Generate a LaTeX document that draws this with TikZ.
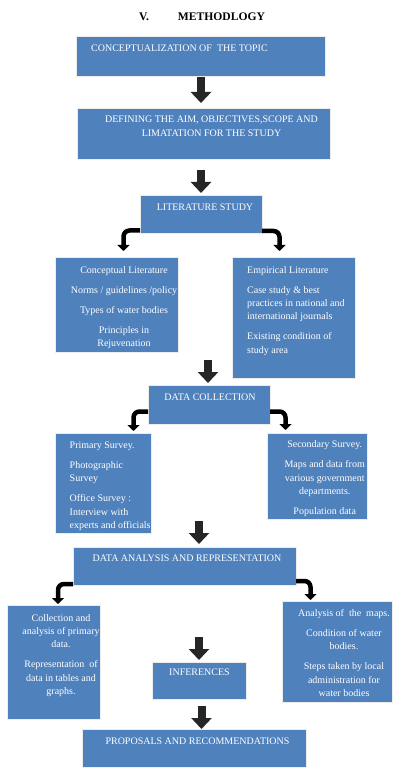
\documentclass[tikz,border=0pt]{standalone}
\usepackage{fontspec}
\setmainfont{Liberation Serif}
\usetikzlibrary{arrows.meta,shadows,calc}
\definecolor{boxblue}{HTML}{4F81BD}
\definecolor{arrowdark}{HTML}{262626}
\begin{document}
\begin{tikzpicture}[x=1pt,y=-1pt,
  box/.style={fill=boxblue, draw=white!85!gray, line width=0.8pt,
    drop shadow={shadow xshift=1.3pt, shadow yshift=-1.3pt, fill=gray!45, opacity=1},
    anchor=north west, inner sep=0pt, outer sep=0pt},
  txt/.style={text=white, font=\fontsize{10}{13.3}\selectfont, inner sep=0pt, anchor=north},
  barrow/.style={draw=arrowdark, line width=8pt, -{Triangle[width=20pt,length=11pt]}},
  carrow/.style={draw=black, line width=4.5pt, rounded corners=6pt, -{Triangle[width=12pt,length=6pt]}}]
\fill[white] (0,0) rectangle (410,775);
\useasboundingbox (0,0) rectangle (410,775);

\node[font=\fontsize{11.6}{14}\selectfont\bfseries, anchor=north west, inner sep=0pt] (title) at (139,13) {V.\hspace{29pt}METHODLOGY};

% boxes
\node[box, minimum width=249pt, minimum height=40pt] (b1) at (76,36) {};
\node[box, minimum width=253pt, minimum height=51pt] (b2) at (77,108) {};
\node[box, minimum width=122pt, minimum height=38pt] (b3) at (140,195) {};
\node[box, minimum width=123pt, minimum height=95pt] (b4) at (55,257) {};
\node[box, minimum width=123pt, minimum height=121pt] (b5) at (232,257) {};
\node[box, minimum width=122pt, minimum height=39pt] (b6) at (148,385) {};
\node[box, minimum width=96pt, minimum height=100pt] (b7) at (55,433) {};
\node[box, minimum width=100pt, minimum height=86pt] (b8) at (267,433) {};
\node[box, minimum width=223pt, minimum height=38pt] (b9) at (73,547) {};
\node[box, minimum width=93pt, minimum height=114pt] (b10) at (7,605) {};
\node[box, minimum width=110pt, minimum height=101pt] (b11) at (282,601) {};
\node[box, minimum width=94pt, minimum height=37pt] (b12) at (152,662) {};
\node[box, minimum width=224pt, minimum height=38pt] (b13) at (82,729) {};

% texts
\node[txt, anchor=north west] (t1) at (91,45) {CONCEPTUALIZATION OF\ \ THE TOPIC};
\node[txt, align=center] (t2) at (211.5,116) {DEFINING THE AIM, OBJECTIVES,SCOPE AND\\LIMATATION FOR THE STUDY};
\node[txt] (t3) at (205,203.5) {LITERATURE STUDY};
\node[txt, align=center] (t4) at (124,266) {Conceptual Literature\\[6.7pt]Norms / guidelines /policy\\[6.7pt]Types of water bodies\\[6.7pt]Principles in\\Rejuvenation};
\node[txt, anchor=north west, align=left] (t5) at (247,266) {Empirical Literature\\[6.7pt]Case study \& best\\practices in national and\\international journals\\[6.7pt]Existing condition of\\study area};
\node[txt] (t6) at (210,393.5) {DATA COLLECTION};
\node[txt, anchor=north west, align=left] (t7) at (69.5,441.7) {Primary Survey.\\[6.7pt]Photographic\\Survey\\[6.7pt]Office Survey :\\Interview with\\experts and officials};
\node[txt, align=center] (t8) at (324.7,440.7) {Secondary Survey.\\[6.7pt]Maps and data from\\various government\\departments.\\[6.7pt]Population data};
\node[txt] (t9) at (187,555) {DATA ANALYSIS AND REPRESENTATION};
\node[txt, align=center] (t10) at (61,614) {Collection and\\analysis of primary\\data.\\[6.7pt]Representation\ \ of\\data in tables and\\graphs.};
\node[txt, align=center] (t11) at (344,609.3) {Analysis of\ \ the\ \ maps.\\[6.7pt]Condition of water\\bodies.\\[6.7pt]Steps taken by local\\administration for\\water bodies};
\node[txt] (t12) at (199.5,668.3) {INFERENCES};
\node[txt] (t13) at (197.5,737.3) {PROPOSALS AND RECOMMENDATIONS};

% block arrows
\draw[barrow] ($(b1.south)+(0.5,1)$) -- ($(b2.north)+(-2.5,-5)$);
\draw[barrow] ($(b2.south)+(-2.5,11)$) -- ($(b3.north)+(0,-2)$);
\coordinate (a3) at ($(b6.north)+(-1,-25)$);
\draw[barrow] (a3) -- ($(b6.north)+(-1,-2)$);
\coordinate (a4) at ($(b9.north)+(14.5,-26)$);
\draw[barrow] (a4) -- ($(b9.north)+(14.5,-3)$);
\coordinate (a5) at ($(b12.north)+(0,-25)$);
\draw[barrow] (a5) -- ($(b12.north)+(0,-2)$);
\draw[barrow] ($(b12.south)+(2.5,7)$) -- ($(b13.north)+(7.5,0)$);

% curved arrows
\coordinate (c1) at (123.5,251);
\coordinate (c2) at (279.5,251);
\coordinate (c3) at (133.5,431);
\coordinate (c4) at (285.5,430);
\coordinate (c5) at (58,604);
\coordinate (c6) at (310.5,600);
\draw[carrow] ($(b3.south west)+(0,-2.5)$) -| (c1);
\draw[carrow] ($(b3.south east)+(0,-2)$) -| (c2);
\draw[carrow] ($(b6.south west)+(0,-12.5)$) -| (c3);
\draw[carrow] ($(b6.south east)+(0,-12.5)$) -| (c4);
\draw[carrow] ($(b9.south west)+(0,-1)$) -| (c5);
\draw[carrow] ($(b9.south east)+(0,-4)$) -| (c6);
\end{tikzpicture}
\end{document}
